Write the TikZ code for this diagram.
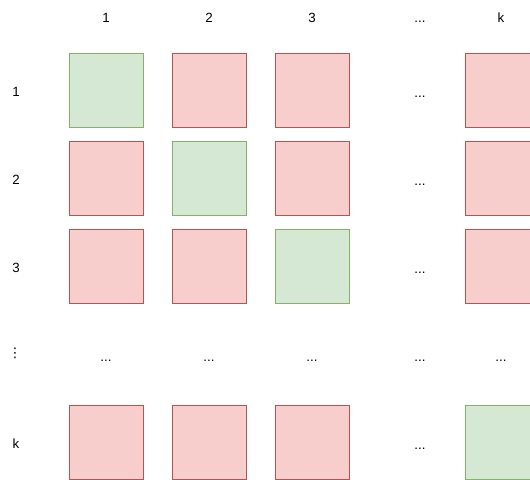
\documentclass[tikz,border=0pt]{standalone}
\usepackage{fontspec}
\setmainfont{Liberation Sans}
\newfontfamily\symfont{DejaVu Sans}
\usepackage{xcolor}
\usepackage{tikz}
\usetikzlibrary{positioning}

\definecolor{redfill}{HTML}{F8CECC}
\definecolor{redline}{HTML}{B85450}
\definecolor{greenfill}{HTML}{D5E8D4}
\definecolor{greenline}{HTML}{82B366}

\begin{document}
\begin{tikzpicture}[
    x=0.75pt,y=-0.75pt,
    font=\fontsize{10}{12}\selectfont,
    cell/.style={
        draw, line width=0.75pt,
        minimum size=55.5pt,
        inner sep=0pt
    },
    miss/.style={cell, draw=redline, fill=redfill},
    hit/.style={cell, draw=greenline, fill=greenfill},
    lbl/.style={anchor=base, inner sep=0pt}
]

% --- Frame of the reference picture ---
\clip (0,0) rectangle (530,479);

% --- Column headers ---
\node[lbl] (c1) at (106,22) {1};
\node[lbl] (c2) at (209,22) {2};
\node[lbl] (c3) at (312,22) {3};
\node[lbl] (cd) at (420,22) {...};
\node[lbl] (ck) at (501,22) {k};

% --- Row headers ---
\node[lbl] (r1) at (16,96) {1};
\node[lbl] (r2) at (16,184) {2};
\node[lbl] (r3) at (16,272) {3};
\node[inner sep=0pt, font=\symfont\fontsize{10}{10}\selectfont] (rd) at (15,353) {⋮};
\node[lbl] (rk) at (16,448) {k};

% --- Row 1 ---
\node[hit]  (a11) at (106,90) {};
\node[miss] (a12) at (209,90) {};
\node[miss] (a13) at (312,90) {};
\node[lbl]  (a1d) at (420,97) {...};
\node[miss] (a1k) at (502,90) {};

% --- Row 2 ---
\node[miss] (a21) at (106,178) {};
\node[hit]  (a22) at (209,178) {};
\node[miss] (a23) at (312,178) {};
\node[lbl]  (a2d) at (420,185) {...};
\node[miss] (a2k) at (502,178) {};

% --- Row 3 ---
\node[miss] (a31) at (106,266) {};
\node[miss] (a32) at (209,266) {};
\node[hit]  (a33) at (312,266) {};
\node[lbl]  (a3d) at (420,273) {...};
\node[miss] (a3k) at (502,266) {};

% --- Elided rows ---
\node[lbl] (ad1) at (106,361) {...};
\node[lbl] (ad2) at (209,361) {...};
\node[lbl] (ad3) at (312,361) {...};
\node[lbl] (add) at (420,361) {...};
\node[lbl] (adk) at (501,361) {...};

% --- Row k ---
\node[miss] (ak1) at (106,442) {};
\node[miss] (ak2) at (209,442) {};
\node[miss] (ak3) at (312,442) {};
\node[lbl]  (akd) at (420,449) {...};
\node[hit]  (akk) at (502,442) {};

\end{tikzpicture}
\end{document}
